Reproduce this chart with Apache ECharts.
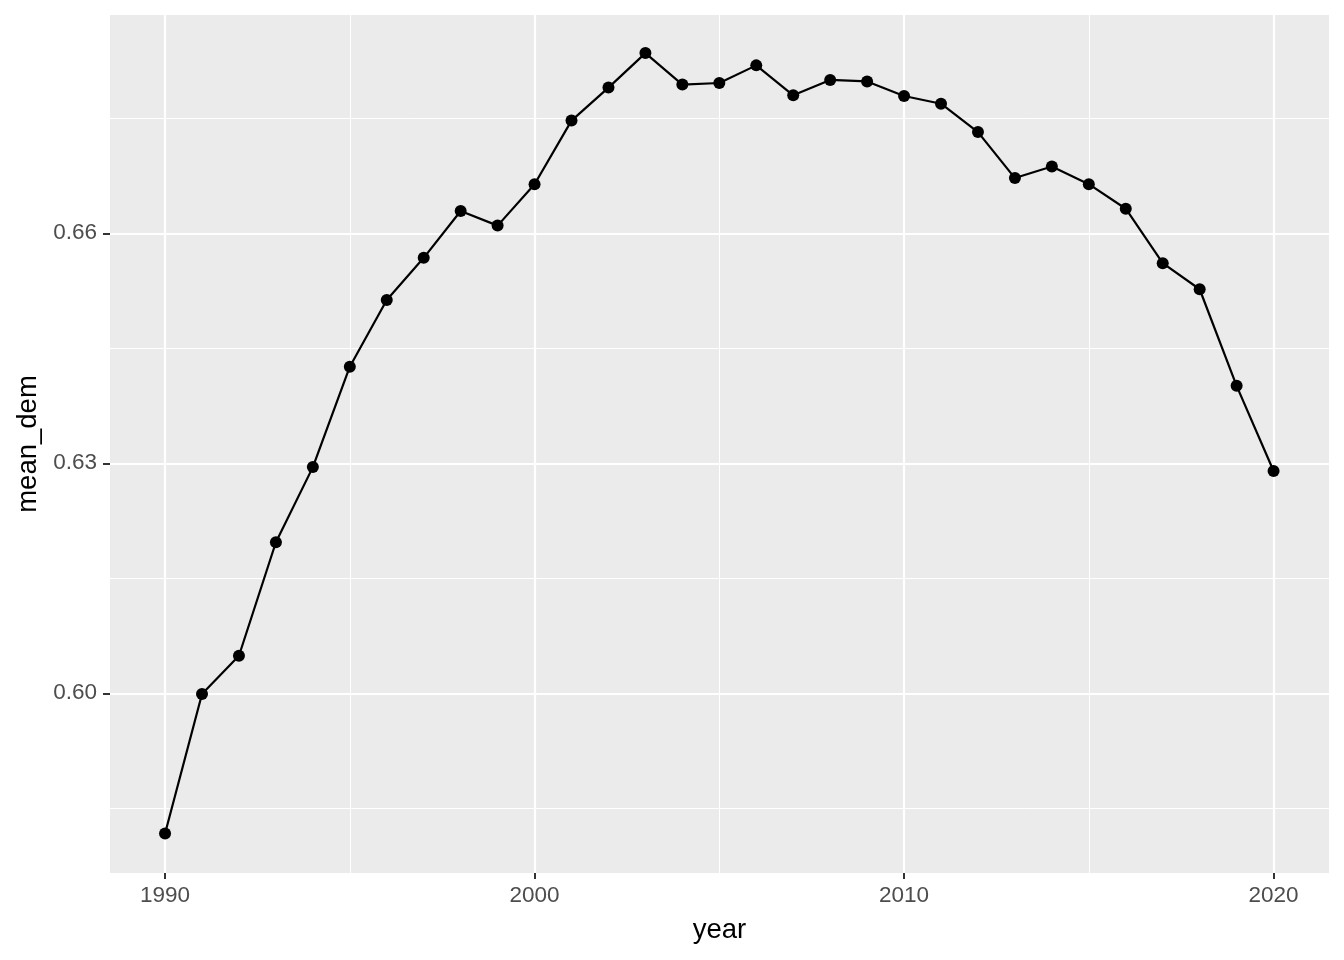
<!DOCTYPE html>
<html>
<head>
<meta charset="utf-8">
<script src="https://cdn.jsdelivr.net/npm/echarts@6/dist/echarts.min.js"></script>
<style>
  html, body { margin: 0; padding: 0; background: #fff; }
  #chart { width: 1344px; height: 960px; }
</style>
</head>
<body>
<div id="chart"></div>
<script>
// data
const years = [1990, 1991, 1992, 1993, 1994, 1995, 1996, 1997, 1998, 1999,
  2000, 2001, 2002, 2003, 2004, 2005, 2006, 2007, 2008, 2009,
  2010, 2011, 2012, 2013, 2014, 2015, 2016, 2017, 2018, 2019, 2020]
const meanDem = [0.5817, 0.5999, 0.6049, 0.6197, 0.6295, 0.6426, 0.6513, 0.6568, 0.6629, 0.6610,
  0.6664, 0.6747, 0.6790, 0.6835, 0.6794, 0.6796, 0.6819, 0.6780, 0.6800, 0.6798,
  0.6779, 0.6769, 0.6732, 0.6672, 0.6687, 0.6664, 0.6632, 0.6561, 0.6527, 0.6401, 0.6290]

const xBreaks = [1990, 2000, 2010, 2020]
const xMinor = [1995, 2005, 2015]
const yBreaks = [0.60, 0.63, 0.66]
const yMinor = [0.585, 0.615, 0.645, 0.675]

const chart = echarts.init(document.getElementById('chart'))

const font = 'Liberation Sans, Arial, Helvetica, sans-serif'

// gridlines drawn as markLines so they sit at the exact break values
const gridLines = (axis, vals, w) => vals.map(v => ({
  [axis]: v,
  lineStyle: { color: '#ffffff', width: w, type: 'solid' }
}))

const option = {
  animation: false,
  backgroundColor: '#ffffff',
  grid: {
    left: 110, right: 15, top: 15, bottom: 87,
    show: true, backgroundColor: '#EBEBEB', borderWidth: 0
  },
  xAxis: {
    type: 'value',
    min: 1988.51,
    max: 2021.5,
    name: 'year',
    nameLocation: 'middle',
    nameGap: 43,
    nameTextStyle: { color: '#000', fontSize: 27.5, fontFamily: font },
    axisLine: { show: false },
    splitLine: { show: false },
    axisTick: { show: true, length: 6, customValues: xBreaks, lineStyle: { color: '#333', width: 2 } },
    axisLabel: {
      customValues: xBreaks, color: '#4D4D4D', fontSize: 22.5, fontFamily: font, margin: 11,
      formatter: v => String(v)
    }
  },
  yAxis: {
    type: 'value',
    min: 0.57656,
    max: 0.68847,
    name: 'mean_dem',
    nameLocation: 'middle',
    nameGap: 68,
    nameRotate: 90,
    nameTextStyle: { color: '#000', fontSize: 27.5, fontFamily: font },
    axisLine: { show: false },
    splitLine: { show: false },
    axisTick: { show: true, length: 7, customValues: yBreaks, lineStyle: { color: '#333', width: 2 } },
    axisLabel: {
      customValues: yBreaks, color: '#4D4D4D', fontSize: 22.5, fontFamily: font, margin: 13,
      formatter: v => v.toFixed(2)
    }
  },
  series: [
    {
      type: 'line',
      data: [],
      silent: true,
      z: 1,
      markLine: {
        silent: true,
        precision: 4,
        symbol: ['none', 'none'],
        label: { show: false },
        animation: false,
        data: [
          ...gridLines('yAxis', yMinor, 1),
          ...gridLines('xAxis', xMinor, 1),
          ...gridLines('yAxis', yBreaks, 2.2),
          ...gridLines('xAxis', xBreaks, 2.2)
        ]
      }
    },
    {
      type: 'line',
      z: 5,
      data: years.map((y, i) => [y, meanDem[i]]),
      symbol: 'circle',
      symbolSize: 12,
      showSymbol: true,
      lineStyle: { color: '#000', width: 2.2 },
      itemStyle: { color: '#000' }
    }
  ]
}

chart.setOption(option)
</script>
</body>
</html>
